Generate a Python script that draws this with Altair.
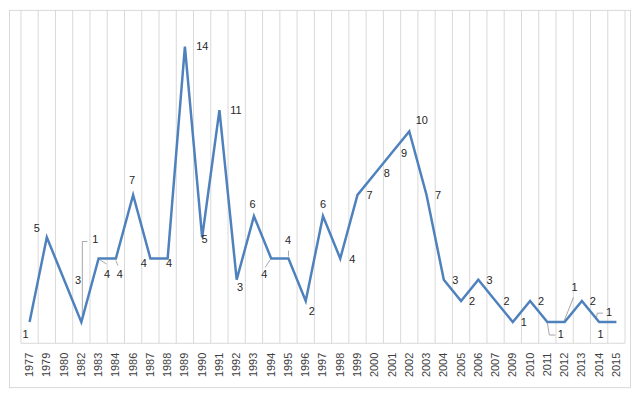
import altair as alt
import pandas as pd

years = ["1977", "1979", "1980", "1982", "1983", "1984", "1986", "1987", "1988", "1989",
         "1990", "1991", "1992", "1993", "1994", "1995", "1996", "1997", "1998", "1999",
         "2000", "2001", "2002", "2003", "2004", "2005", "2006", "2007", "2009", "2010",
         "2011", "2012", "2013", "2014", "2015"]
values = [1, 5, 3, 1, 4, 4, 7, 4, 4, 14,
          5, 11, 3, 6, 4, 4, 2, 6, 4, 7,
          8, 9, 10, 7, 3, 2, 3, 2, 1, 2,
          1, 1, 2, 1, 1]

# label placement (pixel offsets from the data point), mimicking Excel's label layout
label_dx = [-4, -10, 14, 14, 8.5, 4, -1, -6.5, 1.5, 17.5,
            2.5, 16.5, 3.5, -1.5, -7, -0.5, 6, 0, 12, 12,
            12, 12, 12.5, 11.5, 11.5, 11, 11.4, 11, 11, 11,
            13.5, 10, 11, 10, -16]
label_dy = [13, -8, 1, -82, 17, 17, -14, 5.5, 5.5, 0,
            3, 0.5, 8, -11, 17, -18, 11, -11, 1, 1,
            0.5, 1, -10, 1, 1, 1, 1.5, 1, 1, 1,
            13, -34, 1, -9.5, 13]

# leader line segments: (year, x1, y1, x2, y2) in pixel offsets from the point
leader_segs = [
    ("1982", 1, -1, 1, -81), ("1982", 1, -81, 6, -81),
    ("1983", 1.5, 1.5, 8, 5.5),
    ("1984", 0, 2, 2, 7),
    ("1994", -1, 1, -6, 9),
    ("1995", 0, -2, 0, -8),
    ("2011", 0, 1, 2, 13), ("2011", 2, 13, 8, 13),
    ("2012", -1, 0, 9, -25),
    ("2014", -3, -2, -2, -9), ("2014", -2, -9, 4, -9),
]

N = len(years)
PLOT_W = 607           # width of the category area
LEFT = 12              # blank space left of the first category
W, H = PLOT_W + LEFT, 335
YMAX = 15.73
px_x = PLOT_W / N      # pixels per category
px_y = H / YMAX        # pixels per unit
XMIN = -0.5 - LEFT / px_x

idx = list(range(N))
df = pd.DataFrame({"i": idx, "year": years, "value": values})
df["lx"] = [i + dx / px_x for i, dx in zip(idx, label_dx)]
df["ly"] = [v - dy / px_y for v, dy in zip(values, label_dy)]

pos = {y: (i, v) for i, y, v in zip(idx, years, values)}
ldf = pd.DataFrame([
    {"xa": pos[yr][0] + a / px_x, "ya": pos[yr][1] - b / px_y,
     "xb": pos[yr][0] + c / px_x, "yb": pos[yr][1] - d / px_y}
    for yr, a, b, c, d in leader_segs
])

# category boundaries for the vertical gridlines
gdf = pd.DataFrame({"g": [k - 0.5 for k in range(N + 1)], "lo": 0.0, "hi": YMAX})

xscale = alt.Scale(domain=[XMIN, N - 0.5], nice=False, zero=False)
yscale = alt.Scale(domain=[0, YMAX], nice=False)

years_js = "[" + ",".join("'" + y + "'" for y in years) + "]"


def x_axis():
    return alt.Axis(
        title=None, values=idx,
        labelExpr=years_js + "[round(datum.value)]",
        labelAngle=-90, labelAlign="right", labelBaseline="middle",
        labelFont="Liberation Sans", labelFontSize=11, labelColor="#404040",
        labelPadding=9, ticks=False, tickSize=0, grid=False,
        domain=False, labelOverlap=False, labelFlush=False, labelBound=False,
    )


grid = alt.Chart(gdf).mark_rule(color="#d9d9d9", strokeWidth=1).encode(
    x=alt.X("g:Q", scale=xscale, axis=x_axis()),
    y=alt.Y("lo:Q", scale=yscale, axis=None),
    y2="hi:Q",
)

baseline = alt.Chart(pd.DataFrame({"a": [-0.5], "b": [N - 0.5], "z": [0.0]})).mark_rule(
    color="#d9d9d9", strokeWidth=1
).encode(x=alt.X("a:Q", scale=xscale, axis=x_axis()), x2="b:Q",
         y=alt.Y("z:Q", scale=yscale, axis=None))

line = alt.Chart(df).mark_line(color="#4F81BD", strokeWidth=2.5).encode(
    x=alt.X("i:Q", scale=xscale, axis=x_axis()),
    y=alt.Y("value:Q", scale=yscale, axis=None),
)

labels = alt.Chart(df).mark_text(
    font="Liberation Sans", fontSize=11, color="#262626",
    align="center", baseline="middle",
).encode(
    x=alt.X("lx:Q", scale=xscale, axis=x_axis()),
    y=alt.Y("ly:Q", scale=yscale, axis=None),
    text="value:Q",
)

leaders = alt.Chart(ldf).mark_rule(color="#a6a6a6", strokeWidth=1).encode(
    x=alt.X("xa:Q", scale=xscale, axis=x_axis()), x2="xb:Q",
    y=alt.Y("ya:Q", scale=yscale, axis=None), y2="yb:Q",
)

# outer chart frame
frame_df = pd.DataFrame({"f": [0]})
frame_top = alt.Chart(frame_df).mark_rule(color="#d9d9d9", strokeWidth=1).encode(
    x=alt.value(0), x2=alt.value(624.5), y=alt.value(0.5))
frame_left = alt.Chart(frame_df).mark_rule(color="#d9d9d9", strokeWidth=1).encode(
    x=alt.value(0.5), y=alt.value(0), y2=alt.value(379.5))
frame_right = alt.Chart(frame_df).mark_rule(color="#d9d9d9", strokeWidth=1).encode(
    x=alt.value(624.5), y=alt.value(0), y2=alt.value(379.5))
frame_bottom = alt.Chart(frame_df).mark_rule(color="#d9d9d9", strokeWidth=1).encode(
    x=alt.value(0), x2=alt.value(624.5), y=alt.value(379.5))

chart = alt.layer(
    grid, baseline, frame_top, frame_left, frame_right, frame_bottom,
    leaders, line, labels,
).properties(
    width=W, height=H, padding=0, background="white",
).configure_view(strokeWidth=0).configure_axis(labelOverlap=False)

chart.save("out.html", embed_options={"renderer": "svg", "actions": False})
